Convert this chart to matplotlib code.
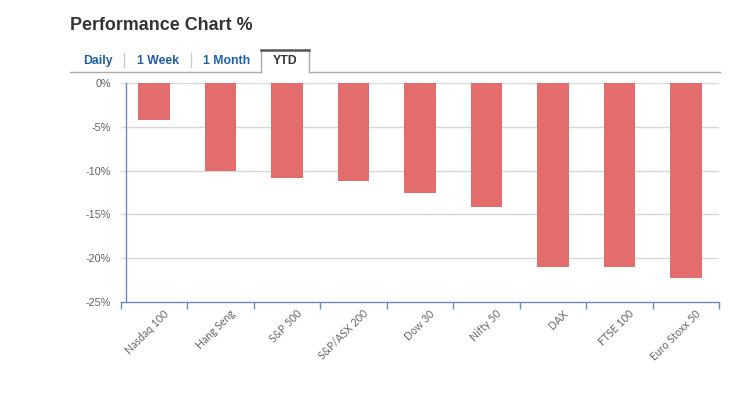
import matplotlib
matplotlib.use("Agg")
import matplotlib.pyplot as plt
from matplotlib.lines import Line2D
from matplotlib.transforms import ScaledTranslation

categories = ["Nasdaq 100", "Hang Seng", "S&P 500", "S&P/ASX 200", "Dow 30",
              "Nifty 50", "DAX", "FTSE 100", "Euro Stoxx 50"]
values = [-4.2, -10.0, -10.85, -11.2, -12.5, -14.2, -21.05, -21.05, -22.3]
yticks = [0, -5, -10, -15, -20, -25]
ytick_labels = ["0%", "-5%", "-10%", "-15%", "-20%", "-25%"]
tabs = ["Daily", "1 Week", "1 Month", "YTD"]

W, H = 739, 398
fig = plt.figure(figsize=(W / 100, H / 100), dpi=100)
fig.patch.set_facecolor("white")

def fx(px):
    return px / W

def fy(py):
    return 1 - py / H

ax = fig.add_axes([fx(120.7), fy(301.7), fx(719.3) - fx(120.7), fy(83.3) - fy(301.7)])
x = list(range(len(categories)))
ax.bar(x, values, width=0.48, color="#E36D6D", zorder=3)
ax.set_xlim(-0.5, len(categories) - 0.5)
ax.set_ylim(-25, 0)

for s in ["top", "right", "left"]:
    ax.spines[s].set_visible(False)
ax.spines["bottom"].set_color("#6D8CB8")
ax.spines["bottom"].set_linewidth(1.0)
ax.spines["bottom"].set_zorder(4)

# y axis line slightly inset
ax.plot([5 / 598.6, 5 / 598.6], [0, 1], transform=ax.transAxes, color="#6D8CB8",
        lw=1.0, clip_on=False, zorder=4)

ax.set_yticks(yticks)
ax.set_yticklabels(ytick_labels)
ax.tick_params(axis="y", length=0, pad=7, labelsize=7.8, labelcolor="#606060")
for lab in ax.get_yticklabels():
    lab.set_fontfamily("Liberation Sans")
for yv in yticks[:-1]:
    ax.axhline(yv, color="#D8D8D8", lw=1.0, zorder=1)

ax.set_xticks(x)
ax.set_xticklabels(categories, rotation=45, ha="right", va="top",
                   fontfamily="Lato", fontsize=7.6, color="#666666")
ax.tick_params(axis="x", which="major", length=0, pad=4.5)
ax.set_xticks([i - 0.5 for i in range(len(categories) + 1)], minor=True)
ax.tick_params(axis="x", which="minor", length=5, width=1.0, color="#6D8CB8", direction="out")
off = ScaledTranslation(17 / 100, 0, fig.dpi_scale_trans)
for lab in ax.get_xticklabels():
    lab.set_transform(lab.get_transform() + off)

# Title
fig.text(fx(70), fy(26), "Performance Chart %", fontsize=12.9, fontweight="bold",
         color="#333333", family="Liberation Sans", va="center", ha="left")

# Tabs
tab_centers = [98, 158, 226.5, 285]
for t, c in zip(tabs, tab_centers):
    col = "#333333" if t == "YTD" else "#1F5FA6"
    fig.text(fx(c), fy(61), t, fontsize=8.8, fontweight="bold", color=col,
             family="Liberation Sans", va="center", ha="center")
for sx in [124, 190.7]:
    fig.add_artist(Line2D([fx(sx), fx(sx)], [fy(53), fy(67)], color="#CCCCCC", lw=1.0))
# bottom line of tabs
fig.add_artist(Line2D([fx(70), fx(261)], [fy(72), fy(72)], color="#AAAAAA", lw=1.0))
fig.add_artist(Line2D([fx(309), fx(720)], [fy(72), fy(72)], color="#AAAAAA", lw=1.0))
# YTD box
fig.add_artist(Line2D([fx(261), fx(261)], [fy(49.5), fy(72)], color="#AAAAAA", lw=1.0))
fig.add_artist(Line2D([fx(309), fx(309)], [fy(49.5), fy(72)], color="#AAAAAA", lw=1.0))
fig.add_artist(Line2D([fx(261), fx(309)], [fy(49.5), fy(49.5)], color="#555555", lw=1.8))

fig.savefig("out.png", dpi=100, facecolor="white")
